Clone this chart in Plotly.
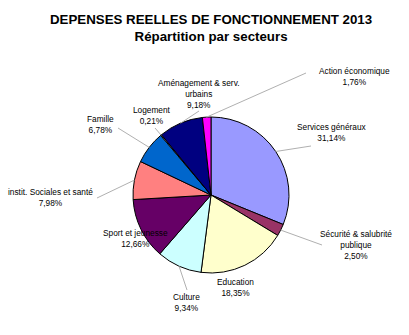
import math
import plotly.graph_objects as go

# ---- data ----
sectors = ["Services généraux", "Sécurité & salubrité<br>publique", "Education", "Culture",
           "Sport et jeunesse", "instit. Sociales et santé", "Famille", "Logement",
           "Aménagement & serv.<br>urbains", "Action économique"]
shares = [31.14, 2.50, 18.35, 9.34, 12.66, 7.98, 6.78, 0.21, 9.18, 1.76]
share_labels = ["31,14%", "2,50%", "18,35%", "9,34%", "12,66%", "7,98%", "6,78%", "0,21%", "9,18%", "1,76%"]
colors = ["#9999FF", "#993366", "#FFFFCC", "#CCFFFF", "#660066", "#FF8080",
          "#0066CC", "#CCCCFF", "#000080", "#FF00FF"]

# ---- layout constants (pixels) ----
W, H = 409, 335
CX, CY, R = 211, 195, 78
# label text centre (px) and leader line end (px or None)
label_pos = [(332, 132), (356, 245), (235, 287), (186, 302), (135, 238),
             (50, 197), (100, 125), (152, 115), (198, 94), (354, 76)]
leader_end = [(311, 146), (322, 245), None, (187, 290), None,
              (97, 198), (118, 128), (155, 128), (199, 111), (306, 73)]

def px(x): return x / W
def py(y): return 1 - y / H

fig = go.Figure(go.Pie(
    labels=[s.replace("<br>", " ") for s in sectors], values=shares, sort=False,
    direction="clockwise", rotation=0, textinfo="none", hoverinfo="label+percent",
    marker=dict(colors=colors, line=dict(color="black", width=1)),
    domain=dict(x=[px(CX - R), px(CX + R)], y=[py(CY + R), py(CY - R)]),
    showlegend=False,
))

annotations = [dict(text="<b>DEPENSES REELLES DE FONCTIONNEMENT 2013</b><br><b>Répartition par secteurs</b>",
                    x=px(211), y=py(28), xref="paper", yref="paper", showarrow=False,
                    xanchor="center", yanchor="middle",
                    font=dict(family="Liberation Sans, Arial", size=13.3, color="black"))]
shapes = []
total = sum(shares)
cum = 0
for i, (name, v) in enumerate(zip(sectors, shares)):
    mid = (cum + v / 2) / total * 2 * math.pi
    cum += v
    ex, ey = CX + R * math.sin(mid), CY - R * math.cos(mid)
    lx, ly = label_pos[i]
    annotations.append(dict(text=name + "<br>" + share_labels[i], x=px(lx), y=py(ly),
                            xref="paper", yref="paper", showarrow=False,
                            xanchor="center", yanchor="middle",
                            font=dict(family="Liberation Sans, Arial", size=8.3, color="black")))
    if leader_end[i] is not None:
        qx, qy = leader_end[i]
        shapes.append(dict(type="line", xref="paper", yref="paper",
                           x0=px(ex), y0=py(ey), x1=px(qx), y1=py(qy),
                           line=dict(color="#B0B0B0", width=1)))

fig.update_layout(width=W, height=H, margin=dict(l=0, r=0, t=0, b=0),
                  paper_bgcolor="white", plot_bgcolor="white",
                  annotations=annotations, shapes=shapes)
fig.write_html("out.html")
